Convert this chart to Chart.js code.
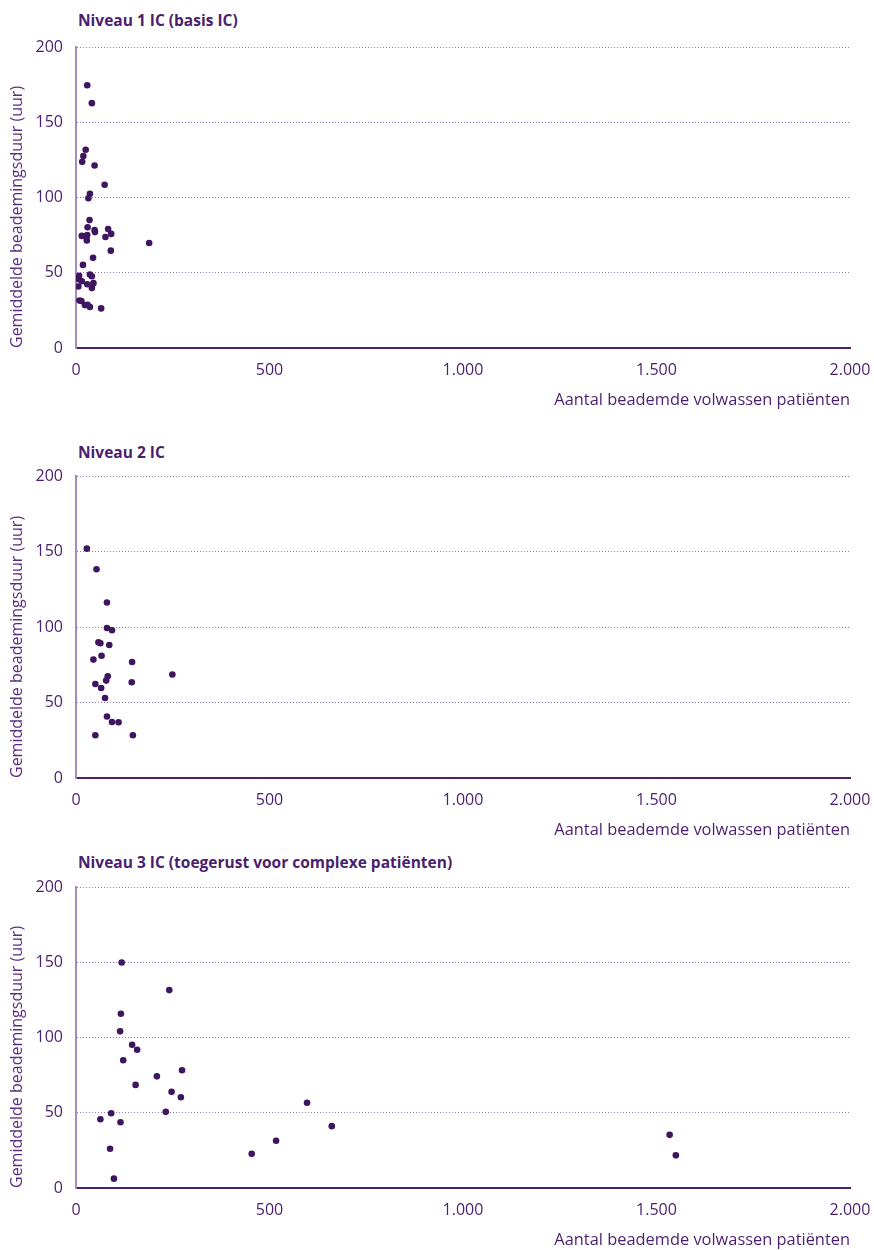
<!DOCTYPE html>
<html>
<head>
<meta charset="utf-8">
<script src="https://cdn.jsdelivr.net/npm/chart.js@4.4.0/dist/chart.umd.min.js"></script>
<style>
  body { margin: 0; background: #fff; width: 874px; height: 1250px; overflow: hidden; position: relative; font-family: "Open Sans", sans-serif; }
  .title { position: absolute; left: 78px; font-size: 15.5px; font-weight: bold; color: #4a1f6e; white-space: nowrap; }
  .box { position: absolute; left: 0; width: 874px; }
</style>
</head>
<body>
<div class="title" style="top:9px">Niveau 1 IC (basis IC)</div>
<div class="box" style="top:30px;height:380px"><canvas id="chart1"></canvas></div>
<div class="title" style="top:441px">Niveau 2 IC</div>
<div class="box" style="top:459px;height:381px"><canvas id="chart2"></canvas></div>
<div class="title" style="top:851px">Niveau 3 IC (toegerust voor complexe patiënten)</div>
<div class="box" style="top:870px;height:380px"><canvas id="chart3"></canvas></div>
<script>
// tick labels
var xTicks = [0, 500, 1000, 1500, 2000];
var yTicks = [0, 50, 100, 150, 200];
var xTitle = "Aantal beademde volwassen patiënten";
var yTitle = "Gemiddelde beademingsduur (uur)";

// niveau 1
var niveau1X = [29, 41, 25, 19, 16, 48, 74, 36, 32, 35, 30, 48, 49, 83, 15, 29, 27, 28, 76, 91, 189, 90, 44, 18, 8, 7, 15, 36, 41, 29, 45, 41, 6, 9, 14, 23, 30, 36, 65];
var niveau1Y = [174.6, 162.7, 131.7, 127.5, 123.7, 121.3, 108.5, 102.5, 99.5, 85, 80.2, 78.4, 77, 79, 74.5, 75.1, 73.4, 71.4, 73.8, 75.8, 69.8, 64.7, 59.9, 55.2, 47.9, 45.7, 44.4, 48.8, 47.7, 42.4, 43.1, 39.8, 40.9, 31.6, 31.2, 28.5, 28.7, 27.2, 26.3];

// niveau 2
var niveau2X = [28, 53, 80, 80, 93, 58, 63, 86, 66, 45, 145, 82, 78, 50, 144, 249, 65, 75, 80, 93, 110, 50, 147];
var niveau2Y = [151.9, 138.2, 116.2, 99.3, 97.8, 89.9, 89.2, 88.1, 81, 78.4, 76.8, 67.4, 64.5, 62.3, 63.4, 68.5, 59.6, 53, 40.7, 37.1, 36.9, 28.3, 28.3];

// niveau 3
var niveau3X = [118, 241, 116, 114, 145, 158, 122, 274, 209, 154, 247, 271, 232, 91, 63, 115, 88, 98, 454, 517, 597, 661, 1534, 1550];
var niveau3Y = [149.8, 131.5, 115.8, 104.1, 95.2, 91.9, 84.9, 78.2, 74.2, 68.5, 63.9, 60.3, 50.6, 49.7, 45.7, 43.7, 26.1, 6.2, 22.7, 31.4, 56.6, 41.1, 35.3, 21.7];

var textColor = '#4a1f6e';
var dotColor = '#3e1660';

function toPoints(xs, ys) {
    return xs.map(function (x, i) { return { x: x, y: ys[i] }; });
}

function formatNl(v) {
    return String(v).replace(/\B(?=(\d{3})+(?!\d))/g, '.');
}

function makeChart(id, xs, ys) {
    new Chart(document.getElementById(id), {
        type: 'scatter',
        data: {
            datasets: [{
                data: toPoints(xs, ys),
                backgroundColor: dotColor,
                borderColor: dotColor,
                pointRadius: 3.3,
                pointHoverRadius: 3.3,
                borderWidth: 0
            }]
        },
        options: {
            responsive: true,
            maintainAspectRatio: false,
            animation: false,
            layout: { padding: 0 },
            plugins: { legend: { display: false }, tooltip: { enabled: false } },
            scales: {
                x: {
                    type: 'linear',
                    min: 0,
                    max: 2000,
                    afterBuildTicks: function (s) { s.ticks = xTicks.map(function (v) { return { value: v }; }); },
                    afterFit: function (s) {
                        s.height = 62;
                        s.paddingLeft = 0;
                        s.paddingRight = 24;
                    },
                    grid: { display: false, drawTicks: false },
                    border: { color: textColor, width: 2 },
                    ticks: {
                        color: textColor,
                        font: { family: 'Open Sans', size: 16 },
                        padding: 13,
                        maxRotation: 0,
                        callback: function (v) { return formatNl(v); }
                    },
                    title: {
                        display: true,
                        text: xTitle,
                        align: 'end',
                        color: textColor,
                        font: { family: 'Open Sans', size: 16.4 },
                        padding: { top: 4, bottom: 0 }
                    }
                },
                y: {
                    type: 'linear',
                    min: 0,
                    max: 200,
                    afterBuildTicks: function (s) { s.ticks = yTicks.map(function (v) { return { value: v }; }); },
                    afterFit: function (s) {
                        s.width = 76;
                        s.paddingTop = 17;
                        s.paddingBottom = 0;
                    },
                    grid: {
                        color: '#9379b0',
                        lineWidth: 1,
                        drawTicks: false
                    },
                    border: { color: '#a48cbf', width: 2, dash: [1, 2] },
                    ticks: {
                        color: textColor,
                        font: { family: 'Open Sans', size: 16 },
                        padding: 13
                    },
                    title: {
                        display: true,
                        text: yTitle,
                        align: 'start',
                        color: '#5a2d80',
                        font: { family: 'Open Sans', size: 16 },
                        padding: { top: 8, bottom: 0 }
                    }
                }
            }
        }
    });
}

makeChart('chart1', niveau1X, niveau1Y);
makeChart('chart2', niveau2X, niveau2Y);
makeChart('chart3', niveau3X, niveau3Y);
</script>
</body>
</html>
